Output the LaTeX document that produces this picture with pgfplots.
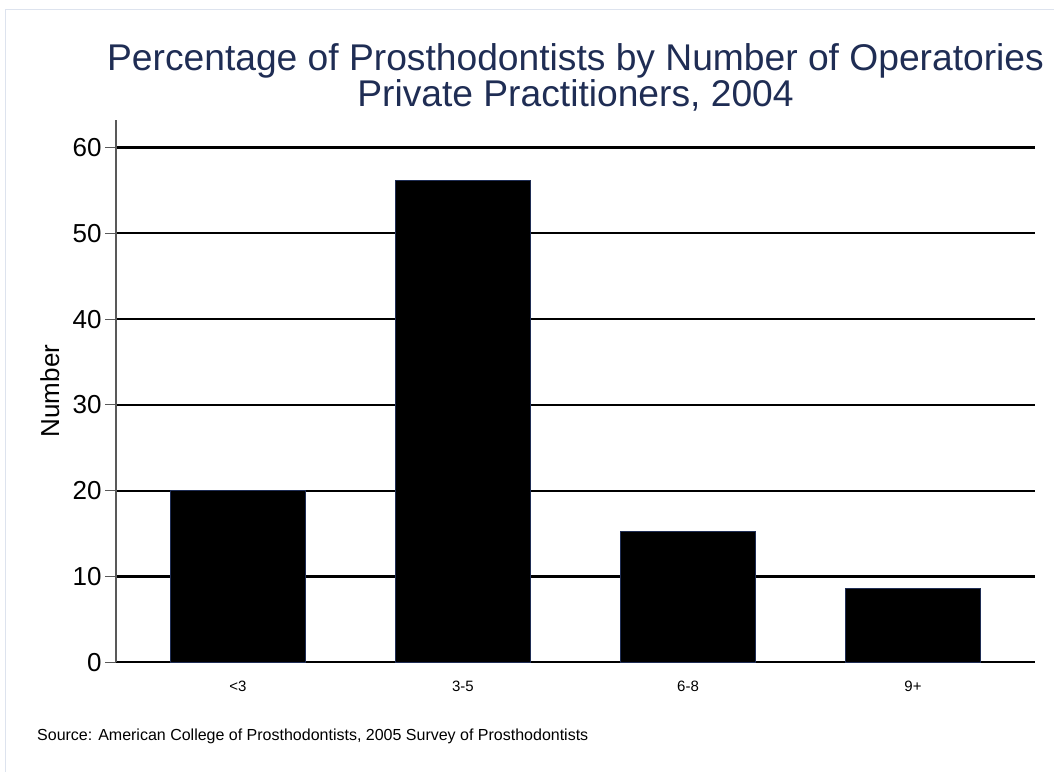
\documentclass[border=0pt]{standalone}
\usepackage{pgfplots}
\pgfplotsset{compat=1.18}
\usepackage{fontspec}
\setmainfont{Liberation Sans}
\definecolor{navy}{RGB}{31,45,84}
\definecolor{framec}{RGB}{221,227,238}
\begin{document}
\begin{tikzpicture}[x=1pt,y=1pt]
\path[use as bounding box] (0,0) rectangle (1054,772);
\draw[framec, line width=1.5pt] (5.5,0) -- (5.5,762.5) -- (1054,762.5);
\begin{axis}[
  at={(116pt,109.7pt)}, anchor=south west,
  scale only axis, width=919pt, height=542.3pt,
  xmin=-0.542, xmax=3.542, ymin=0, ymax=63.2,
  axis x line*=bottom, axis y line*=left,
  x axis line style={black, line width=2.3pt},
  y axis line style={black!65, line width=1.5pt},
  ymajorgrids, grid style={black, line width=2.3pt},
  ytick={0,10,...,60},
  xtick={0,1,2,3},
  xticklabels={{<3},{3-5},{6-8},{9+}},
  x tick style={draw=none},
  y tick style={black!65, line width=1pt},
  major tick length=11pt, tick align=outside,
  /pgf/number format/assume math mode=true,
  yticklabel style={font=\fontsize{26}{31}\selectfont, black},
  xticklabel style={font=\fontsize{15}{18}\selectfont, black, yshift=-4pt},
]
\addplot[ybar, bar width=135.7pt, fill=black, draw=navy, line width=1pt]
  coordinates {(0,20.0) (1,56.1) (2,15.3) (3,8.6)};
\end{axis}
\node[anchor=base, navy, inner sep=0, font=\fontsize{37.2}{44}\selectfont] at (575.5,701.3) {Percentage of Prosthodontists by Number of Operatories};
\node[anchor=base, navy, inner sep=0, font=\fontsize{37.2}{44}\selectfont] at (575.5,665.3) {Private Practitioners, 2004};
\node[anchor=base, rotate=90, inner sep=0, font=\fontsize{26}{31}\selectfont] at (59,381) {Number};
\node[anchor=base west, inner sep=0, font=\fontsize{16}{19}\selectfont] at (37,32) {Source: American College of Prosthodontists, 2005 Survey of Prosthodontists};
\end{tikzpicture}
\end{document}
